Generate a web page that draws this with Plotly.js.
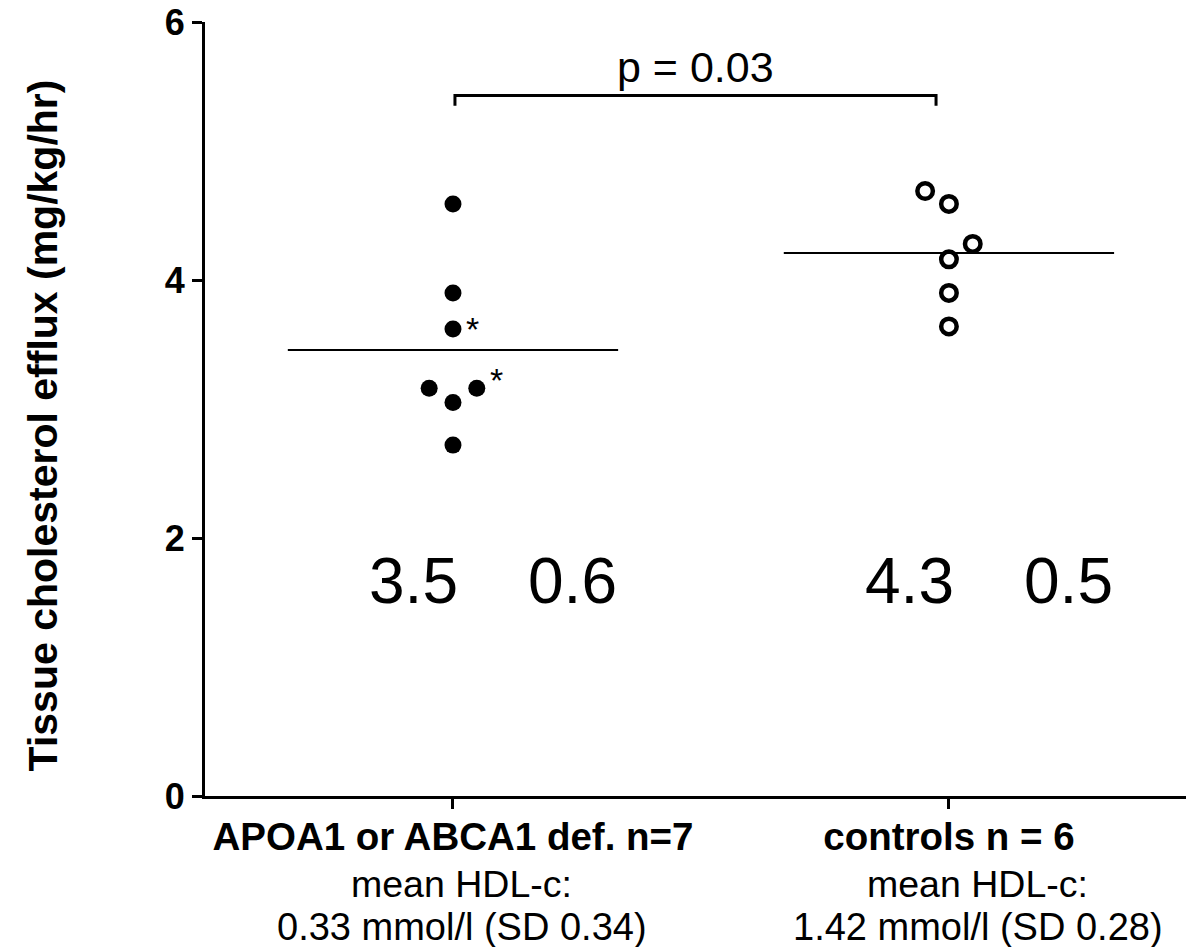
<!DOCTYPE html>
<html>
<head>
<meta charset="utf-8">
<script src="https://cdn.plot.ly/plotly-3.0.1.min.js"></script>
<style>
  html, body { margin: 0; padding: 0; background: #ffffff; }
  #chart { width: 1186px; height: 947px; }
</style>
</head>
<body>
<div id="chart"></div>
<script>
// ---- data ----
const groupLabels = ['APOA1 or ABCA1 def. n=7', 'controls n = 6'];
const groupPos = [1, 2];
const defValues = [4.59, 3.90, 3.62, 3.16, 3.05, 3.16, 2.72];
const defJitter = [0, 0, 0, -0.048, 0, 0.048, 0];
const ctrlValues = [4.69, 4.59, 4.28, 4.16, 3.90, 3.64];
const ctrlJitter = [-0.048, 0, 0.048, 0, 0, 0];
const starredDef = [2, 5];
const summaryMean = ['3.5', '4.3'];
const summarySD = ['0.6', '0.5'];
const hdlHeader = ['mean HDL-c:', 'mean HDL-c:'];
const hdlValues = ['0.33 mmol/l (SD 0.34)', '1.42 mmol/l (SD 0.28)'];
const pValueText = 'p = 0.03';
const yTickVals = [0, 2, 4, 6];
const yTitle = 'Tissue cholesterol efflux (mg/kg/hr)';

const FONT = 'Arial, "Liberation Sans", sans-serif';
const mean = a => a.reduce((s, v) => s + v, 0) / a.length;
const halfLine = 0.333;

const defX = defValues.map((v, i) => groupPos[0] + defJitter[i]);
const ctrlX = ctrlValues.map((v, i) => groupPos[1] + ctrlJitter[i]);

const traces = [
  { type: 'scatter', mode: 'markers', x: defX, y: defValues,
    marker: { symbol: 'circle', size: 17, color: '#000000', line: { width: 0 } },
    hoverinfo: 'skip', showlegend: false, cliponaxis: false },
  { type: 'scatter', mode: 'markers', x: ctrlX, y: ctrlValues,
    marker: { symbol: 'circle-open', size: 15.5, color: '#000000', line: { width: 4.5, color: '#000000' } },
    hoverinfo: 'skip', showlegend: false, cliponaxis: false },
  { type: 'scatter', mode: 'lines',
    x: [groupPos[0] - halfLine, groupPos[0] + halfLine], y: [mean(defValues), mean(defValues)],
    line: { color: '#000000', width: 2 }, hoverinfo: 'skip', showlegend: false },
  { type: 'scatter', mode: 'lines',
    x: [groupPos[1] - halfLine, groupPos[1] + halfLine], y: [mean(ctrlValues), mean(ctrlValues)],
    line: { color: '#000000', width: 2 }, hoverinfo: 'skip', showlegend: false }
];

const annotations = [];
// y-axis title
annotations.push({ x: -0.165, y: 0.479, xref: 'paper', yref: 'paper', text: yTitle,
  textangle: -90, showarrow: false, xanchor: 'center', yanchor: 'middle',
  font: { family: FONT, size: 41, color: '#000000', weight: 'bold' } });
// asterisks
const starShift = [[20, 0], [20, 8]];
starredDef.forEach((idx, k) => {
  annotations.push({ x: defX[idx], y: defValues[idx], xref: 'x', yref: 'y', text: '*',
    showarrow: false, xanchor: 'center', yanchor: 'middle',
    xshift: starShift[k][0], yshift: starShift[k][1],
    font: { family: FONT, size: 34, color: '#000000' } });
});
// summary numbers
groupPos.forEach((g, i) => {
  annotations.push({ x: g - 0.08, y: 1.665, xref: 'x', yref: 'y', text: summaryMean[i],
    showarrow: false, xanchor: 'center', yanchor: 'middle',
    font: { family: FONT, size: 64, color: '#000000' } });
  annotations.push({ x: g + 0.241, y: 1.665, xref: 'x', yref: 'y', text: summarySD[i],
    showarrow: false, xanchor: 'center', yanchor: 'middle',
    font: { family: FONT, size: 64, color: '#000000' } });
});
// HDL sublabels
const subOffset = [0.018, 0.058];
groupPos.forEach((g, i) => {
  annotations.push({ x: g + subOffset[i], y: 0, xref: 'x', yref: 'paper', text: hdlHeader[i],
    showarrow: false, xanchor: 'center', yanchor: 'middle', yshift: -88,
    font: { family: FONT, size: 37.5, color: '#000000' } });
  annotations.push({ x: g + subOffset[i], y: 0, xref: 'x', yref: 'paper', text: hdlValues[i],
    showarrow: false, xanchor: 'center', yanchor: 'middle', yshift: -131,
    font: { family: FONT, size: 38, color: '#000000' } });
});
// p value
annotations.push({ x: 1.489, y: 5.655, xref: 'x', yref: 'y', text: pValueText,
  showarrow: false, xanchor: 'center', yanchor: 'middle',
  font: { family: FONT, size: 43, color: '#000000' } });

const layout = {
  width: 1186, height: 947,
  paper_bgcolor: '#ffffff', plot_bgcolor: '#ffffff',
  margin: { l: 205, r: 0, t: 22, b: 151 },
  showlegend: false,
  font: { family: FONT, color: '#000000' },
  xaxis: {
    range: [0.5, 2.478], showgrid: false, zeroline: false,
    showline: true, linecolor: '#000000', linewidth: 3,
    tickmode: 'array', tickvals: groupPos, ticktext: groupLabels,
    ticks: 'outside', ticklen: 10, tickwidth: 3, tickcolor: '#000000',
    ticklabelstandoff: -5,
    tickfont: { family: FONT, size: 38.5, color: '#000000', weight: 'bold' },
    fixedrange: true
  },
  yaxis: {
    range: [0, 6], showgrid: false, zeroline: false,
    showline: true, linecolor: '#000000', linewidth: 3,
    tickmode: 'array', tickvals: yTickVals, ticktext: yTickVals.map(String),
    ticks: 'outside', ticklen: 10, tickwidth: 3, tickcolor: '#000000',
    tickfont: { family: FONT, size: 36, color: '#000000', weight: 'bold' },
    fixedrange: true
  },
  shapes: [
    { type: 'path', xref: 'x', yref: 'y',
      path: 'M 1.004 5.35 L 1.004 5.43 L 1.974 5.43 L 1.974 5.35',
      line: { color: '#000000', width: 3 } }
  ],
  annotations: annotations
};

Plotly.newPlot('chart', traces, layout, { staticPlot: true, displayModeBar: false });
</script>
</body>
</html>
